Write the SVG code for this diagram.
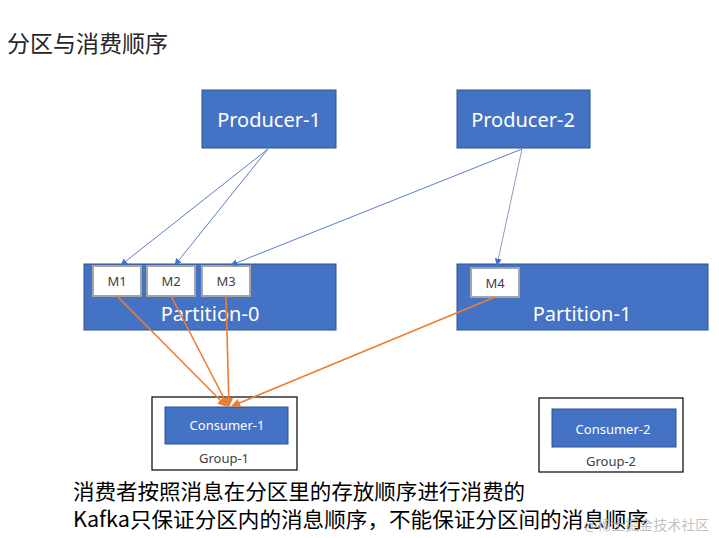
<svg xmlns="http://www.w3.org/2000/svg" width="719" height="538" viewBox="0 0 719 538">
<defs>
<style>
.t{font-family:"Noto Sans","Noto Sans CJK SC",sans-serif}
.cjk{font-family:"Noto Sans CJK SC","Noto Sans",sans-serif}
.blue{fill:#4472C4;stroke:#2F528F;stroke-width:1}
.msg{fill:#fff;stroke:#A5A5A5;stroke-width:2}
.wt{fill:#fff;text-anchor:middle}
.mt{fill:#404040;font-size:13px;text-anchor:middle}
.grp{fill:#fff;stroke:#000;stroke-width:1.2}
.gt{fill:#404040;font-size:13px;text-anchor:middle}
.pl{stroke:#4472C4;stroke-width:0.9;fill:none}
.ol{stroke:#ED7D31;stroke-width:1.6;fill:none}
</style>
<marker id="ab" viewBox="0 0 10 10" refX="9" refY="5" markerWidth="7" markerHeight="7" orient="auto" markerUnits="userSpaceOnUse"><path d="M0,0L10,5L0,10z" fill="#4472C4"/></marker>
<marker id="ao" viewBox="0 0 10 10" refX="9" refY="5" markerWidth="9" markerHeight="9" orient="auto" markerUnits="userSpaceOnUse"><path d="M0,0L10,5L0,10z" fill="#ED7D31"/></marker>
</defs>
<rect width="719" height="538" fill="#fff"/>
<text class="cjk" x="7" y="52" font-size="23" fill="#262626">分区与消费顺序</text>

<g id="producer-1"><rect class="blue" x="202" y="90" width="134" height="58"/><text class="t wt" x="269" y="127" font-size="20">Producer-1</text></g>
<g id="producer-2"><rect class="blue" x="457" y="90" width="133" height="58"/><text class="t wt" x="523" y="127" font-size="20">Producer-2</text></g>

<g id="partition-0"><rect class="blue" x="84" y="264" width="252" height="66"/><text class="t wt" x="210" y="321" font-size="20">Partition-0</text></g>
<g id="m1"><rect class="msg" x="93" y="266" width="48" height="30"/><text class="t mt" x="117" y="286">M1</text></g>
<g id="m2"><rect class="msg" x="147" y="266" width="48" height="30"/><text class="t mt" x="171" y="286">M2</text></g>
<g id="m3"><rect class="msg" x="202" y="266" width="48" height="30"/><text class="t mt" x="226" y="286">M3</text></g>

<g id="partition-1"><rect class="blue" x="457" y="264" width="251" height="66"/><text class="t wt" x="582" y="321" font-size="20">Partition-1</text></g>
<g id="m4"><rect class="msg" x="471" y="268" width="48" height="29"/><text class="t mt" x="495" y="288">M4</text></g>

<g id="group-1"><rect class="grp" x="152" y="397" width="145" height="73"/><rect class="blue" x="165" y="407" width="123" height="37"/><text class="t wt" x="227" y="430" font-size="13">Consumer-1</text><text class="t gt" x="224" y="463">Group-1</text></g>
<g id="group-2"><rect class="grp" x="539" y="398" width="144" height="74"/><rect class="blue" x="552" y="409" width="124" height="38"/><text class="t wt" x="613" y="434" font-size="13">Consumer-2</text><text class="t gt" x="611" y="466">Group-2</text></g>

<g id="connectors">
<line class="pl" x1="268" y1="149" x2="121" y2="265" marker-end="url(#ab)"/>
<line class="pl" x1="268" y1="149" x2="175" y2="265" marker-end="url(#ab)"/>
<line class="pl" x1="522" y1="149" x2="231" y2="265" marker-end="url(#ab)"/>
<line x1="522" y1="149" x2="497" y2="265" stroke="#8E9CC0" stroke-width="1" marker-end="url(#ab)"/>
<line class="ol" x1="117" y1="296" x2="226" y2="406" marker-end="url(#ao)"/>
<line class="ol" x1="171" y1="296" x2="228" y2="406" marker-end="url(#ao)"/>
<line class="ol" x1="226" y1="296" x2="229" y2="406" marker-end="url(#ao)"/>
<line class="ol" x1="495" y1="297" x2="232" y2="406" marker-end="url(#ao)"/>
</g>

<text class="cjk" x="73" y="499" font-size="21" fill="#000" textLength="452" lengthAdjust="spacingAndGlyphs">消费者按照消息在分区里的存放顺序进行消费的</text>
<text class="cjk" x="73" y="527" font-size="21" fill="#000" textLength="575" lengthAdjust="spacingAndGlyphs">Kafka只保证分区内的消息顺序，不能保证分区间的消息顺序</text>
<text class="cjk" x="584" y="530" font-size="14" fill="#B0B0B0" fill-opacity="0.8">@稀土掘金技术社区</text>
</svg>
